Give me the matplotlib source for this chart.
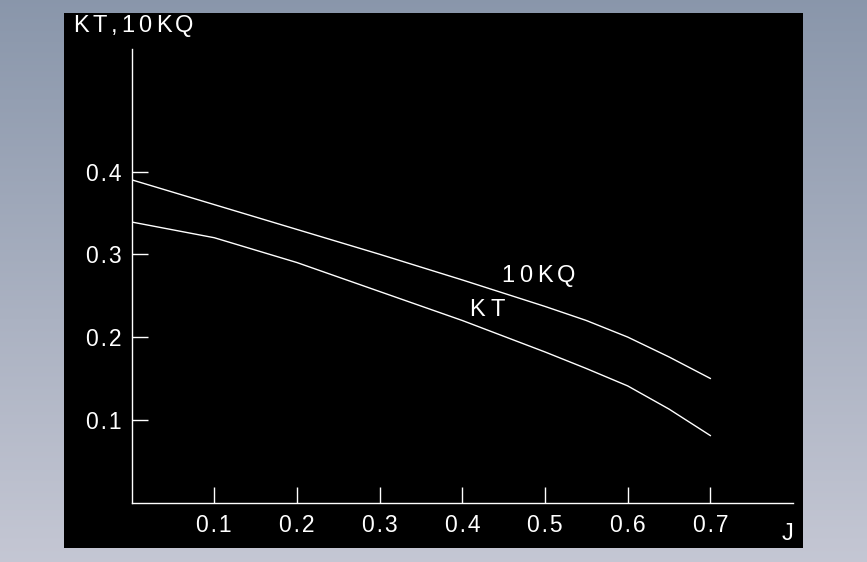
import numpy as np
import matplotlib
matplotlib.use("Agg")
import matplotlib.pyplot as plt
import matplotlib.transforms as mtransforms
from matplotlib.patches import Rectangle

# values (J = advance ratio)
J = [0.0, 0.1, 0.2, 0.3, 0.4, 0.5, 0.55, 0.6, 0.65, 0.7]
KQ10 = [0.390, 0.360, 0.330, 0.300, 0.269, 0.237, 0.220, 0.200, 0.176, 0.150]
KT = [0.339, 0.320, 0.290, 0.255, 0.220, 0.182, 0.162, 0.141, 0.113, 0.081]

x_ticks = [0.1, 0.2, 0.3, 0.4, 0.5, 0.6, 0.7]
x_labels = ["0.1", "0.2", "0.3", "0.4", "0.5", "0.6", "0.7"]
y_ticks = [0.1, 0.2, 0.3, 0.4]
y_labels = ["0.1", "0.2", "0.3", "0.4"]

FONT = ["Liberation Sans", "DejaVu Sans"]
W, H = 867, 562


def spaced(s):
    # CAD text is drawn with wide letter spacing
    return "\u200a".join(s)


def cad_text(ax, x, y, s, gap=4.5, size=17):
    # put characters one by one, so spacing looks like the CAD text
    fig = ax.figure
    r = fig.canvas.get_renderer()
    dx = 0.0
    for ch in s:
        tr = mtransforms.offset_copy(ax.transData, fig=fig, x=dx, y=0, units="dots")
        t = ax.text(x, y, ch, transform=tr, color="white", ha="left", va="baseline",
                    fontsize=size, family=FONT, clip_on=False)
        dx += t.get_window_extent(r).width + gap


fig = plt.figure(figsize=(W / 100, H / 100), dpi=100)

# grey-blue gradient behind the black drawing area
bg = fig.add_axes([0, 0, 1, 1])
top = np.array([0.54, 0.59, 0.67])
bot = np.array([0.77, 0.78, 0.83])
t = np.linspace(0, 1, 256)[:, None]
grad = top * (1 - t) + bot * t
bg.imshow(grad[:, None, :], aspect="auto", extent=[0, 1, 0, 1], origin="upper")
bg.add_patch(Rectangle((64 / W, 1 - 548 / H), (803 - 64) / W, (548 - 13) / H,
                       facecolor="black", edgecolor="none"))
bg.set_xlim(0, 1)
bg.set_ylim(0, 1)
bg.axis("off")

ax = fig.add_axes([131.6 / W, 1 - 502.6 / H, (793 - 131.6) / W, (502.6 - 49) / H])
ax.set_facecolor("none")
ax.plot(J, KQ10, color="white", lw=1.0)
ax.plot(J, KT, color="white", lw=1.0)

ax.set_xlim(0, 0.80)
ax.set_ylim(0, 0.548)
for side in ["top", "right"]:
    ax.spines[side].set_visible(False)
for side in ["left", "bottom"]:
    ax.spines[side].set_color("white")
    ax.spines[side].set_linewidth(1.0)

ax.set_xticks(x_ticks)
ax.set_xticklabels([spaced(s) for s in x_labels], family=FONT, fontsize=16.5)
ax.set_yticks(y_ticks)
ax.set_yticklabels([spaced(s) for s in y_labels], family=FONT, fontsize=16.5)
ax.tick_params(direction="in", length=11.5, width=1.0, colors="white")
ax.tick_params(axis="x", pad=8)
ax.tick_params(axis="y", pad=7)

cad_text(ax, -0.0709, 0.568, "KT,10KQ", gap=4.0)
cad_text(ax, 0.4475, 0.266, "10KQ")
cad_text(ax, 0.408, 0.225, "KT", gap=5.5)
cad_text(ax, 0.786, -0.045, "J")

fig.savefig("out.png", dpi=100)
